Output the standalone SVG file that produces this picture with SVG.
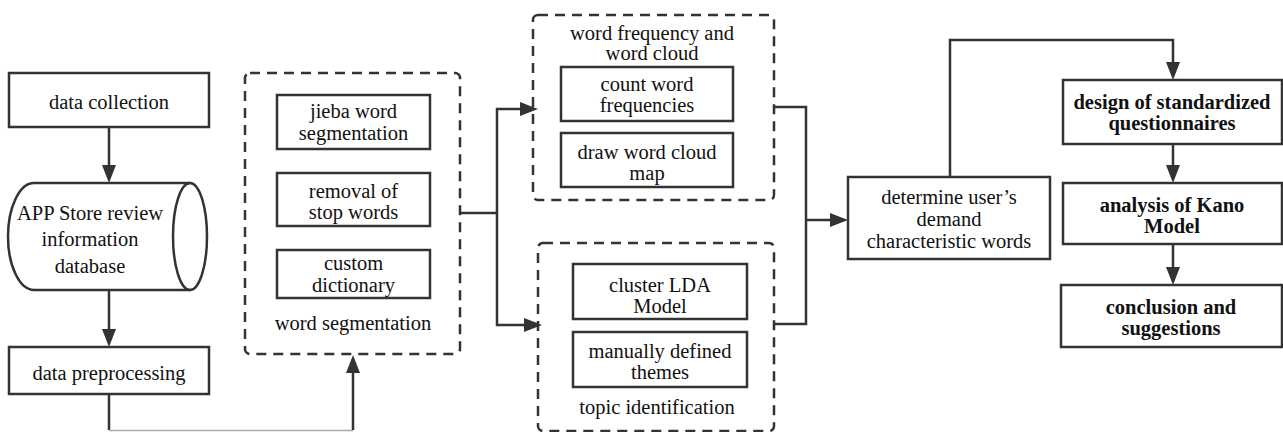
<svg xmlns="http://www.w3.org/2000/svg" width="1283" height="432" viewBox="0 0 1283 432">
<defs>
<style>
.box{fill:#fff;stroke:#333;stroke-width:2.5}
.grp{fill:none;stroke:#333;stroke-width:2.5;stroke-dasharray:10 7}
.t{font-family:"Liberation Serif","Times New Roman",serif;font-size:20.5px;fill:#111;text-anchor:middle}
.b{font-weight:bold}
.c{fill:none;stroke:#333;stroke-width:2.5}
</style>
<marker id="ah" markerUnits="userSpaceOnUse" viewBox="0 0 18 14" refX="14" refY="7" markerWidth="18" markerHeight="14" orient="auto">
<path d="M0,0 L18,7 L0,14 z" fill="#333"/>
</marker>
</defs>
<rect width="1283" height="432" fill="#fff"/>

<g id="connectors">
<path class="c" d="M109,127 V179" marker-end="url(#ah)"/>
<path class="c" d="M109,290 V343" marker-end="url(#ah)"/>
<path class="c" d="M109,394 V430"/>
<path d="M109,430.5 H353" fill="none" stroke="#aaa" stroke-width="1.5"/>
<path class="c" d="M353,430 V359" marker-end="url(#ah)"/>
<path class="c" d="M460,213 H497"/>
<path class="c" d="M497,213 V109 H534" marker-end="url(#ah)"/>
<path class="c" d="M497,213 V325 H538" marker-end="url(#ah)"/>
<path class="c" d="M774,107 H806 V324 H774"/>
<path class="c" d="M806,220 H844" marker-end="url(#ah)"/>
<path class="c" d="M950,177 V40 H1173 V76" marker-end="url(#ah)"/>
<path class="c" d="M1173,144 V179" marker-end="url(#ah)"/>
<path class="c" d="M1173,244 V281" marker-end="url(#ah)"/>
</g>

<g id="data-collection">
<rect class="box" x="9" y="73" width="200" height="54"/>
<text class="t" x="109" y="109">data collection</text>
</g>

<g id="review-database">
<path class="box" d="M34,183 H190 A17,53.5 0 0 1 190,290 H34 A26,53.5 0 0 1 34,183 Z"/>
<path d="M190,183 A17,53.5 0 0 0 190,290" fill="none" stroke="#333" stroke-width="2.5"/>
<text class="t" x="90" y="220">APP Store review</text>
<text class="t" x="90" y="246">information</text>
<text class="t" x="90" y="273">database</text>
</g>

<g id="data-preprocessing">
<rect class="box" x="9" y="347" width="200" height="47"/>
<text class="t" x="109" y="380">data preprocessing</text>
</g>

<g id="word-segmentation">
<rect class="grp" x="245" y="73" width="215" height="281" rx="5"/>
<rect class="box" x="277" y="95" width="153" height="54"/>
<text class="t" x="353.5" y="118">jieba word</text>
<text class="t" x="353.5" y="140">segmentation</text>
<rect class="box" x="277" y="173" width="153" height="53"/>
<text class="t" x="353.5" y="198">removal of</text>
<text class="t" x="353.5" y="219">stop words</text>
<rect class="box" x="277" y="250" width="153" height="48"/>
<text class="t" x="353.5" y="270">custom</text>
<text class="t" x="353.5" y="292">dictionary</text>
<text class="t" x="353" y="330">word segmentation</text>
</g>

<g id="word-frequency">
<rect class="grp" x="533" y="15" width="241" height="185" rx="5"/>
<text class="t" x="652" y="40">word frequency and</text>
<text class="t" x="652" y="60">word cloud</text>
<rect class="box" x="561" y="67" width="172" height="54"/>
<text class="t" x="647" y="91">count word</text>
<text class="t" x="647" y="112">frequencies</text>
<rect class="box" x="561" y="133" width="172" height="54"/>
<text class="t" x="647" y="159">draw word cloud</text>
<text class="t" x="647" y="180">map</text>
</g>

<g id="topic-identification">
<rect class="grp" x="538" y="243" width="236" height="188" rx="5"/>
<rect class="box" x="573" y="264" width="174" height="55"/>
<text class="t" x="660" y="292">cluster LDA</text>
<text class="t" x="660" y="313">Model</text>
<rect class="box" x="573" y="332" width="174" height="55"/>
<text class="t" x="660" y="358">manually defined</text>
<text class="t" x="660" y="379">themes</text>
<text class="t" x="657" y="414">topic identification</text>
</g>

<g id="determine">
<rect class="box" x="848" y="177" width="202" height="82"/>
<text class="t" x="949" y="204">determine user’s</text>
<text class="t" x="949" y="226">demand</text>
<text class="t" x="949" y="248">characteristic words</text>
</g>

<g id="design">
<rect class="box" x="1063" y="80" width="219" height="64"/>
<text class="t b" x="1172" y="109">design of standardized</text>
<text class="t b" x="1172" y="130">questionnaires</text>
</g>

<g id="analysis">
<rect class="box" x="1063" y="183" width="219" height="61"/>
<text class="t b" x="1172" y="212">analysis of Kano</text>
<text class="t b" x="1172" y="233">Model</text>
</g>

<g id="conclusion">
<rect class="box" x="1061" y="285" width="221" height="62"/>
<text class="t b" x="1171" y="314">conclusion and</text>
<text class="t b" x="1171" y="335">suggestions</text>
</g>
</svg>
